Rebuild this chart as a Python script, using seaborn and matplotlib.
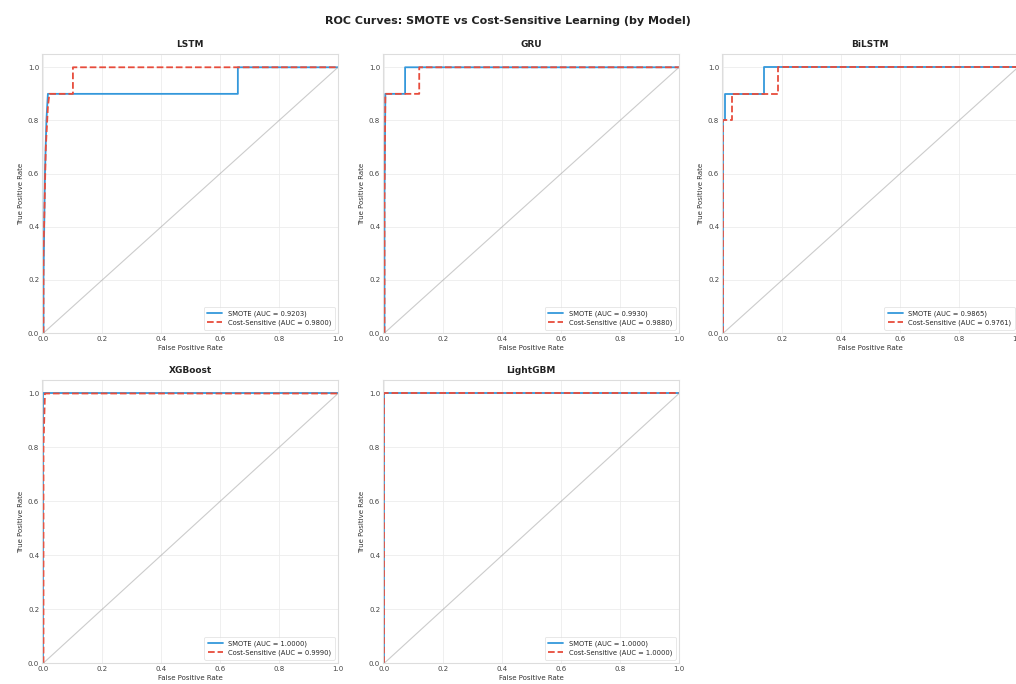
import matplotlib
matplotlib.use("Agg")
import matplotlib.pyplot as plt
import seaborn as sns
import pandas as pd

# ---- data ----
models = ["LSTM", "GRU", "BiLSTM", "XGBoost", "LightGBM"]

smote_fpr = {
    "LSTM":     [0.0, 0.0, 0.005, 0.01, 0.015, 0.66, 0.66, 1.0],
    "GRU":      [0.0, 0.0, 0.003, 0.07, 0.07, 1.0],
    "BiLSTM":   [0.0, 0.0, 0.004, 0.004, 0.136, 0.136, 1.0],
    "XGBoost":  [0.0, 0.0, 1.0],
    "LightGBM": [0.0, 0.0, 1.0],
}
smote_tpr = {
    "LSTM":     [0.0, 0.2, 0.6, 0.8, 0.9, 0.9, 1.0, 1.0],
    "GRU":      [0.0, 0.5, 0.9, 0.9, 1.0, 1.0],
    "BiLSTM":   [0.0, 0.8, 0.8, 0.9, 0.9, 1.0, 1.0],
    "XGBoost":  [0.0, 1.0, 1.0],
    "LightGBM": [0.0, 1.0, 1.0],
}
cost_fpr = {
    "LSTM":     [0.0, 0.0, 0.008, 0.015, 0.02, 0.1, 0.1, 1.0],
    "GRU":      [0.0, 0.0, 0.003, 0.118, 0.118, 1.0],
    "BiLSTM":   [0.0, 0.0, 0.03, 0.03, 0.184, 0.184, 1.0],
    "XGBoost":  [0.0, 0.0, 0.005, 1.0],
    "LightGBM": [0.0, 0.0, 1.0],
}
cost_tpr = {
    "LSTM":     [0.0, 0.3, 0.7, 0.85, 0.9, 0.9, 1.0, 1.0],
    "GRU":      [0.0, 0.5, 0.9, 0.9, 1.0, 1.0],
    "BiLSTM":   [0.0, 0.8, 0.8, 0.9, 0.9, 1.0, 1.0],
    "XGBoost":  [0.0, 0.8, 1.0, 1.0],
    "LightGBM": [0.0, 1.0, 1.0],
}
smote_auc = {"LSTM": 0.9203, "GRU": 0.9930, "BiLSTM": 0.9865,
             "XGBoost": 1.0000, "LightGBM": 1.0000}
cost_auc = {"LSTM": 0.9800, "GRU": 0.9880, "BiLSTM": 0.9761,
            "XGBoost": 0.9990, "LightGBM": 1.0000}

tick_vals = [0.0, 0.2, 0.4, 0.6, 0.8, 1.0]

# ---- style ----
sns.set_theme(style="whitegrid")
plt.rcParams["font.family"] = ["DejaVu Sans"]

W, H = 1016, 684
fig = plt.figure(figsize=(W / 100, H / 100), dpi=100)

col_left = [42, 383, 722]
row_span = [(54, 333), (380, 663)]
ax_w = 296

positions = [(0, 0), (0, 1), (0, 2), (1, 0), (1, 1)]
smote_color = "#3498db"
cost_color = "#e74c3c"

for name, (r, c) in zip(models, positions):
    top, bot = row_span[r]
    ax = fig.add_axes([col_left[c] / W, 1 - bot / H, ax_w / W, (bot - top) / H])
    d1 = pd.DataFrame({"fpr": smote_fpr[name], "tpr": smote_tpr[name]})
    d2 = pd.DataFrame({"fpr": cost_fpr[name], "tpr": cost_tpr[name]})
    sns.lineplot(data=d1, x="fpr", y="tpr", sort=False, estimator=None, ax=ax,
                 color=smote_color, lw=1.3,
                 label=f"SMOTE (AUC = {smote_auc[name]:.4f})")
    sns.lineplot(data=d2, x="fpr", y="tpr", sort=False, estimator=None, ax=ax,
                 color=cost_color, lw=1.3, linestyle="--",
                 label=f"Cost-Sensitive (AUC = {cost_auc[name]:.4f})")
    ax.plot([0, 1], [0, 1], color="#999999", lw=0.8, alpha=0.5)
    ax.set_xlim(-0.005, 1.0)
    ax.set_ylim(0.0, 1.05)
    ax.set_xticks(tick_vals)
    ax.set_yticks(tick_vals)
    ax.tick_params(labelsize=5, colors="#444444", pad=2, length=0)
    ax.set_xlabel("False Positive Rate", fontsize=5, color="#333333", labelpad=2)
    ax.set_ylabel("True Positive Rate", fontsize=5, color="#333333", labelpad=3)
    ax.set_title(name, fontsize=6.5, fontweight="bold", pad=5, color="#222222")
    ax.grid(True, color="#ececec", lw=0.6)
    for s in ax.spines.values():
        s.set_color("#dddddd")
        s.set_linewidth(0.8)
    leg = ax.legend(loc="lower right", fontsize=4.9, frameon=True,
                    handlelength=2.2, borderpad=0.5, labelspacing=0.45)
    leg.get_frame().set_edgecolor("#dddddd")
    leg.get_frame().set_linewidth(0.6)

fig.text(0.5, 1 - 21 / H, "ROC Curves: SMOTE vs Cost-Sensitive Learning (by Model)",
         ha="center", va="center", fontsize=8, fontweight="bold", color="#222222")

fig.savefig("out.png", dpi=100)
